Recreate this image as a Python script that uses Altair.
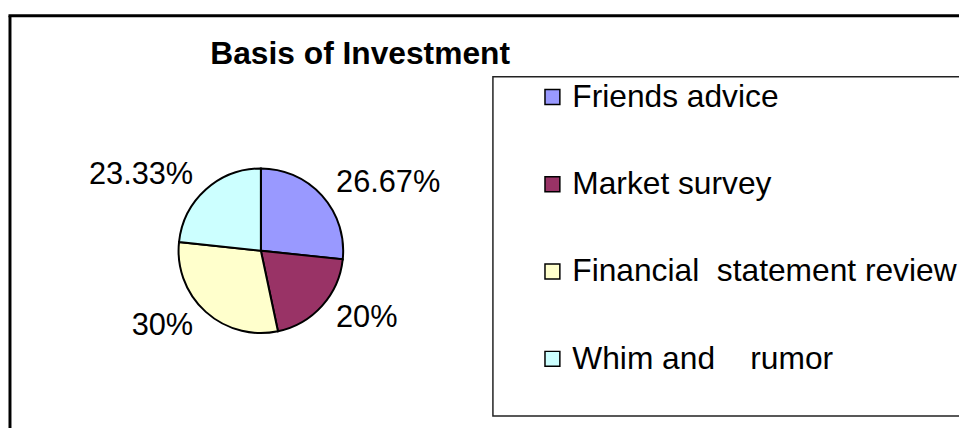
import altair as alt
import pandas as pd

TITLE = "Basis of Investment"
categories = [
    "Friends advice",
    "Market survey",
    "Financial\u00a0\u00a0statement review",
    "Whim and\u00a0\u00a0\u00a0\u00a0rumor",
]
values = [26.67, 20, 30, 23.33]
labels = ["26.67%", "20%", "30%", "23.33%"]
colors = ["#9999FF", "#993366", "#FFFFCC", "#CCFFFF"]

df = pd.DataFrame({
    "category": categories,
    "value": values,
    "label": labels,
    "idx": list(range(len(categories))),
})

FONT = "Liberation Sans"
W, H = 957, 414
CX, CY = 253, 237

theta_scale = alt.Scale(domain=[0, 100])

pie = alt.Chart(df).mark_arc(radius=83, stroke="black", strokeWidth=2).encode(
    theta=alt.Theta("value:Q", stack=True, scale=theta_scale),
    order=alt.Order("idx:Q"),
    color=alt.Color(
        "category:N",
        sort=categories,
        scale=alt.Scale(domain=categories, range=colors),
        legend=alt.Legend(
            title=None,
            orient="none",
            legendX=531,
            legendY=66,
            padding=0,
            direction="vertical",
            symbolType="square",
            symbolSize=225,
            symbolStrokeColor="black",
            symbolStrokeWidth=1.5,
            labelFont=FONT,
            labelFontSize=32,
            labelColor="black",
            labelOffset=4,
            labelLimit=800,
            rowPadding=56,
        ),
    ),
    x=alt.value(CX),
    y=alt.value(CY),
)

lab_base = alt.Chart(df).transform_window(
    cum="sum(value)", sort=[alt.SortField("idx")], frame=[None, 0]
).transform_calculate(
    mid="datum.cum - datum.value / 2"
)

lab_right = lab_base.transform_filter("datum.mid < 50").mark_text(
    radius=102, align="left", baseline="middle", font=FONT, fontSize=31, color="black"
).encode(
    theta=alt.Theta("mid:Q", scale=theta_scale),
    text="label:N",
    x=alt.value(CX),
    y=alt.value(CY),
)

lab_left = lab_base.transform_filter("datum.mid >= 50").mark_text(
    radius=102, align="right", baseline="middle", font=FONT, fontSize=31, color="black"
).encode(
    theta=alt.Theta("mid:Q", scale=theta_scale),
    text="label:N",
    x=alt.value(CX),
    y=alt.value(CY),
)

title_df = pd.DataFrame({"t": [TITLE]})
title = alt.Chart(title_df).mark_text(
    align="left", baseline="alphabetic", font=FONT, fontSize=32, fontWeight="bold", color="black"
).encode(text="t:N", x=alt.value(202), y=alt.value(49))

legend_box = alt.Chart(title_df).mark_rect(
    fill="white", stroke="#222222", strokeWidth=1.5
).encode(x=alt.value(487), x2=alt.value(1200), y=alt.value(61.5), y2=alt.value(403.7))

border_top = alt.Chart(title_df).mark_rule(color="black", strokeWidth=3).encode(
    x=alt.value(-1.5), x2=alt.value(1200), y=alt.value(0)
)
border_left = alt.Chart(title_df).mark_rule(color="black", strokeWidth=3).encode(
    x=alt.value(0), y=alt.value(0), y2=alt.value(1200)
)

chart = alt.layer(
    border_top, border_left, legend_box, title, pie, lab_right, lab_left
).properties(
    width=W,
    height=H,
    padding={"left": 2, "top": 6, "right": 0, "bottom": 0},
    autosize=alt.AutoSizeParams(type="none"),
    background="white",
).configure_view(stroke=None)

chart.save("out.html", embed_options={"renderer": "svg", "actions": False})
